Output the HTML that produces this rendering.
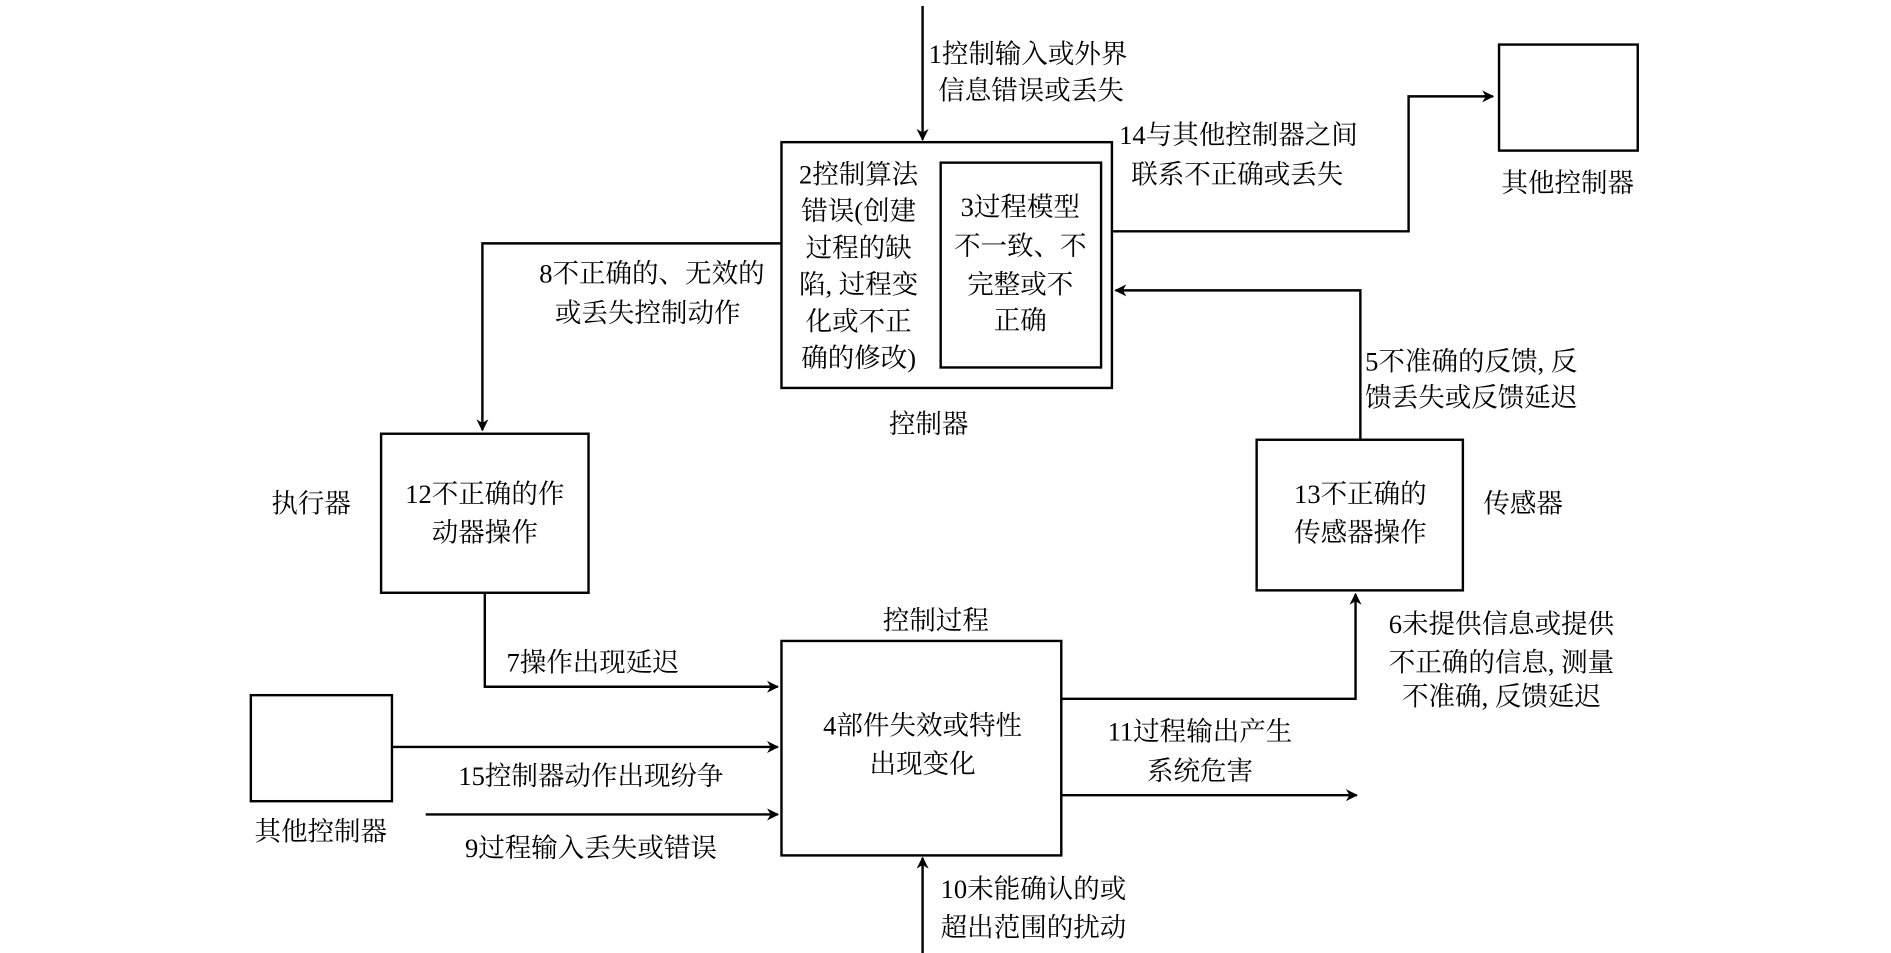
<!DOCTYPE html>
<html><head><meta charset="utf-8"><style>html,body{margin:0;padding:0;background:#fff}svg{display:block}</style></head><body>
<svg width="1891" height="953" viewBox="0 0 1568 791" preserveAspectRatio="none" xmlns="http://www.w3.org/2000/svg">
<defs><marker id="a" markerWidth="10" markerHeight="10" refX="9" refY="5" orient="auto" markerUnits="userSpaceOnUse"><path d="M0,0 L10,5 L0,10 L3,5 Z" fill="#000"/></marker></defs>
<g fill="none" stroke="#000" stroke-width="2">
<rect x="648" y="118" width="274" height="204"/>
<rect x="780" y="135" width="133" height="170"/>
<rect x="1243" y="37" width="115" height="88"/>
<rect x="316" y="360" width="172" height="132"/>
<rect x="1042" y="365" width="171" height="125"/>
<rect x="648" y="532" width="232" height="178"/>
<rect x="208" y="577" width="117" height="88"/>
<path d="M765,5 V116" marker-end="url(#a)"/>
<path d="M922,192 H1168 V80 H1238" marker-end="url(#a)"/>
<path d="M648,202 H400 V357" marker-end="url(#a)"/>
<path d="M402,492 V570 H645" marker-end="url(#a)"/>
<path d="M325,620 H645" marker-end="url(#a)"/>
<path d="M353,676 H645" marker-end="url(#a)"/>
<path d="M765,791 V712" marker-end="url(#a)"/>
<path d="M880,660 H1125" marker-end="url(#a)"/>
<path d="M880,580 H1124 V493" marker-end="url(#a)"/>
<path d="M1128,365 V241 H925" marker-end="url(#a)"/>
</g>
<g font-family="'Liberation Serif','Noto Serif CJK SC',serif" font-size="22" fill="#000" dominant-baseline="central">
<text x="770" y="45">1控制输入或外界</text><text x="778" y="75">信息错误或丢失</text>
<g text-anchor="middle">
<text x="712" y="145">2控制算法</text><text x="712" y="175">错误(创建</text><text x="712" y="206">过程的缺</text><text x="712" y="236">陷, 过程变</text><text x="712" y="267">化或不正</text><text x="712" y="297">确的修改)</text>
<text x="846" y="172">3过程模型</text><text x="846" y="204">不一致、不</text><text x="846" y="236">完整或不</text><text x="846" y="266">正确</text>
<text x="770" y="352">控制器</text>
<text x="1300" y="152">其他控制器</text>
<text x="402" y="410">12不正确的作</text><text x="402" y="442">动器操作</text>
<text x="1128" y="410">13不正确的</text><text x="1128" y="442">传感器操作</text>
<text x="776" y="515">控制过程</text>
<text x="765" y="602">4部件失效或特性</text><text x="765" y="634">出现变化</text>
<text x="266" y="690">其他控制器</text>
<text x="490" y="644">15控制器动作出现纷争</text>
<text x="490" y="704">9过程输入丢失或错误</text>
<text x="995" y="607">11过程输出产生</text><text x="995" y="640">系统危害</text>
<text x="1245" y="518">6未提供信息或提供</text><text x="1245" y="550">不正确的信息, 测量</text><text x="1245" y="578">不准确, 反馈延迟</text>
</g>
<text x="928" y="112">14与其他控制器之间</text><text x="938" y="145">联系不正确或丢失</text>
<text x="634" y="227" text-anchor="end">8不正确的、无效的</text><text x="614" y="260" text-anchor="end">或丢失控制动作</text>
<text x="225" y="418">执行器</text>
<text x="1230" y="418">传感器</text>
<text x="420" y="550">7操作出现延迟</text>
<text x="780" y="738">10未能确认的或</text><text x="780" y="770">超出范围的扰动</text>
<text x="1132" y="300">5不准确的反馈, 反</text><text x="1132" y="330">馈丢失或反馈延迟</text>
</g>
</svg>
</body></html>
